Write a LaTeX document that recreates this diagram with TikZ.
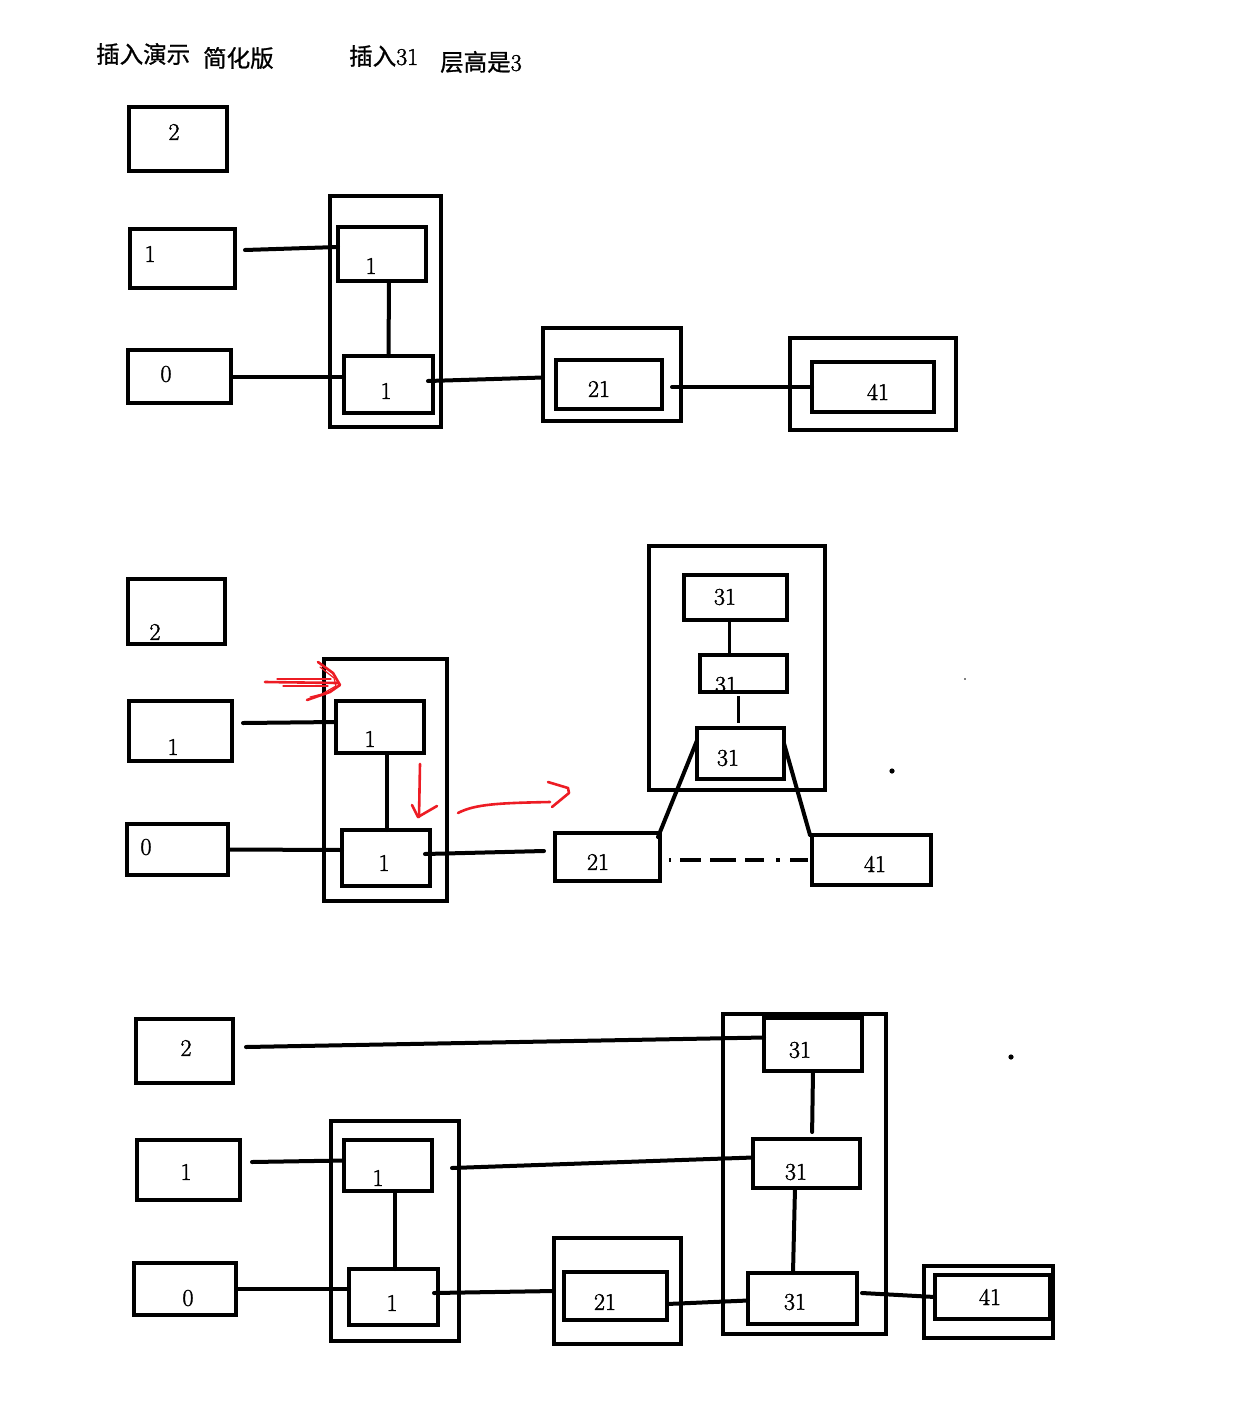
\documentclass[tikz,border=0pt]{standalone}
\usepackage{fontspec}
\newfontfamily\cjk{Noto Sans CJK SC}[FakeBold=1]
\newfontfamily\digitfont{Latin Modern Roman}[FakeBold=1.6]
\definecolor{paintred}{RGB}{237,28,36}
\newcommand\mkbox[5]{\node[box, minimum width={(#4)-(#2)}, minimum height={(#5)-(#3)}] (#1) at ({((#2)+(#4))/2},{((#3)+(#5))/2}) {};}
\newcommand\mklbl[4]{\node[lbl] (#1) at (#2,#3) {#4};}
\tikzset{
  box/.style={draw, rectangle, line width=4pt, inner sep=0pt, outer sep=0pt},
  lbl/.style={inner sep=0pt, font=\digitfont\fontsize{24}{24}\selectfont},
  ttl/.style={inner sep=0pt, anchor=west, font=\fontsize{23.5}{23.5}\selectfont},
  link/.style={line width=4pt, line cap=round},
  thinlink/.style={line width=3pt},
  redmark/.style={draw=paintred, line width=2.6pt, line cap=round, line join=round},
  redthin/.style={draw=paintred, line width=1.2pt, line cap=round},
  dashdotline/.style={line width=4pt, dash pattern=on 2pt off 9pt on 21pt off 9pt on 26pt off 9pt on 19pt off 12pt on 4pt off 10pt on 18pt off 5pt}
}
\begin{document}
\begin{tikzpicture}[x=1pt,y=-1pt]
\fill[white] (0,0) rectangle (1242,1424);
\useasboundingbox (0,0) rectangle (1242,1424);

% ---------- title ----------
\node[ttl] (t1) at (96,54) {\cjk 插入演示};
\node[ttl] (t2) at (203,58) {\cjk 简化版};
\node[ttl] (t3) at (349,56) {\cjk 插入\digitfont\fontsize{24}{24}\selectfont 31};
\node[ttl] (t4) at (440,62) {\cjk 层高是\digitfont\fontsize{24}{24}\selectfont 3};

% ---------- section 1 ----------
\mkbox{a2}{129}{107}{227}{171}
\mkbox{a1}{130}{229}{235}{288}
\mkbox{a0}{128}{350}{231}{403}
\mkbox{aO}{330}{196}{441}{427}
\mkbox{aT}{338}{227}{426}{281}
\mkbox{aB}{344}{356}{433}{413}
\mkbox{a21o}{543}{328}{681}{421}
\mkbox{a21}{556}{360}{662}{409}
\mkbox{a41o}{790}{338}{956}{430}
\mkbox{a41}{812}{362}{934}{412}
\mklbl{la2}{174}{132}{2}
\mklbl{la1}{150}{254}{1}
\mklbl{la0}{166}{374}{0}
\mklbl{laT}{371}{266}{1}
\mklbl{laB}{386}{391}{1}
\mklbl{la21}{599}{389}{21}
\mklbl{la41}{878}{392}{41}

\coordinate (s1a) at (245,250);
\coordinate (s1b) at (428,381);
\coordinate (s1c) at (672,387);
\draw[link] (s1a) -- ([yshift=7pt]aT.west);
\draw[link] (a0.east) -- ([yshift=8pt]aB.west);
\draw[link] (s1b) -- ([yshift=-3pt]a21o.west);
\draw[link] (s1c) -- (a41.west);
\draw[link] ([xshift=7pt]aT.south) -- (aB.north);

% ---------- section 2 ----------
\mkbox{b2}{128}{579}{225}{644}
\mkbox{b1}{129}{701}{232}{761}
\mkbox{b0}{127}{824}{228}{875}
\mkbox{bO}{324}{659}{447}{901}
\mkbox{bT}{336}{701}{424}{753}
\mkbox{bB}{342}{830}{430}{886}
\mkbox{b21}{555}{833}{660}{881}
\mkbox{cO}{649}{546}{825}{790}
\mkbox{cT}{684}{575}{787}{620}
\mklbl{lcM}{726}{685}{31}
\mkbox{cM}{700}{655}{787}{692}
\mkbox{cB}{697}{728}{784}{779}
\mkbox{b41}{812}{835}{931}{885}
\mklbl{lb2}{155}{632}{2}
\mklbl{lb1}{173}{747}{1}
\mklbl{lb0}{146}{847}{0}
\mklbl{lbT}{370}{739}{1}
\mklbl{lbB}{384}{863}{1}
\mklbl{lb21}{598}{862}{21}
\mklbl{lcT}{725}{597}{31}
\mklbl{lcB}{728}{758}{31}
\mklbl{lb41}{875}{864}{41}

\coordinate (s2a) at (243,723);
\coordinate (s2b) at (425,854);
\coordinate (s2c) at (544,851);
\draw[link] (s2a) -- ([yshift=5pt]bT.west);
\draw[link] (b0.east) -- ([yshift=8pt]bB.west);
\draw[link] (s2b) -- (s2c);
\draw[link] ([xshift=7pt]bT.south) -- ([xshift=1pt]bB.north);
\draw[thinlink] ([xshift=-6.5pt]cT.south) -- ([xshift=-14.5pt]cM.north);
\draw[thinlink, shorten <=4pt, shorten >=5pt] ([xshift=-5.5pt]cM.south) -- ([xshift=-2.5pt]cB.north);
\draw[link] ([yshift=13pt]cB.west) -- ([xshift=-2pt,yshift=-4pt]b21.north east);
\draw[link] ([yshift=10pt]cB.east) -- ([xshift=-2pt]b41.north west);
\draw[dashdotline] ([xshift=9pt,yshift=-3pt]b21.east) -- (b41.west);

% red annotation marks
\draw[redmark] (265,682) -- (338,683);
\draw[redthin] (277,679) -- (331,679);
\draw[redthin] (283,686) -- (328,686);
\draw[redmark] (318,662) -- (333,673) -- (340,685) -- (330,692) -- (307,700);
\draw[redthin] (320,667) -- (334,678) -- (336,686) -- (322,694) -- (310,697);
\draw[redmark] (420,764) -- (419,817);
\draw[redmark] (412,805) -- (418,817) -- (437,806);
\draw[redmark] (458,813) .. controls (475,804) and (500,803) .. (550,802);
\draw[redmark] (548,782) -- (568,788) -- (569,793) -- (552,807);

% stray dots
\fill (892,771) circle (2.6);
\fill (965,679) circle (0.8);

% ---------- section 3 ----------
\mkbox{d2}{136}{1019}{233}{1083}
\mkbox{d1}{137}{1140}{240}{1200}
\mkbox{d0}{134}{1263}{236}{1315}
\mkbox{dO}{331}{1121}{459}{1341}
\mkbox{dT}{344}{1140}{432}{1191}
\mkbox{dB}{349}{1269}{438}{1325}
\mkbox{d21o}{554}{1238}{681}{1344}
\mkbox{d21}{564}{1272}{667}{1320}
\mkbox{eO}{723}{1014}{886}{1334}
\mkbox{eT}{764}{1018}{862}{1071}
\mkbox{eM}{753}{1139}{860}{1188}
\mkbox{eB}{748}{1273}{857}{1324}
\mkbox{d41o}{924}{1266}{1053}{1338}
\mkbox{d41}{935}{1275}{1050}{1319}
\mklbl{ld2}{186}{1048}{2}
\mklbl{ld1}{186}{1172}{1}
\mklbl{ld0}{188}{1298}{0}
\mklbl{ldT}{378}{1178}{1}
\mklbl{ldB}{392}{1303}{1}
\mklbl{ld21}{605}{1302}{21}
\mklbl{leT}{800}{1050}{31}
\mklbl{leM}{796}{1172}{31}
\mklbl{leB}{795}{1302}{31}
\mklbl{ld41}{990}{1297}{41}

\coordinate (s3a) at (246,1047);
\coordinate (s3b) at (252,1162);
\coordinate (s3c) at (452,1168);
\coordinate (s3d) at (434,1293);
\coordinate (s3e) at (862,1293);
\draw[link] (s3a) -- ([yshift=7pt]eT.west);
\draw[link] (s3b) -- ([yshift=5pt]dT.west);
\draw[link] (s3c) -- ([yshift=6pt]eM.west);
\draw[link] (d0.east) -- ([yshift=8pt]dB.west);
\draw[link] (s3d) -- (d21o.west);
\draw[link] ([yshift=-8pt]d21.east) -- ([yshift=-2pt]eB.west);
\draw[link] (s3e) -- (d41.west);
\draw[link] ([xshift=7pt]dT.south) -- ([xshift=1.5pt]dB.north);
\draw[link, shorten >=7pt] (eT.south) -- ([xshift=5.5pt]eM.north);
\draw[link] ([xshift=-11.5pt]eM.south) -- ([xshift=-9.5pt]eB.north);

\fill (1011,1057) circle (2.6);
\end{tikzpicture}
\end{document}
